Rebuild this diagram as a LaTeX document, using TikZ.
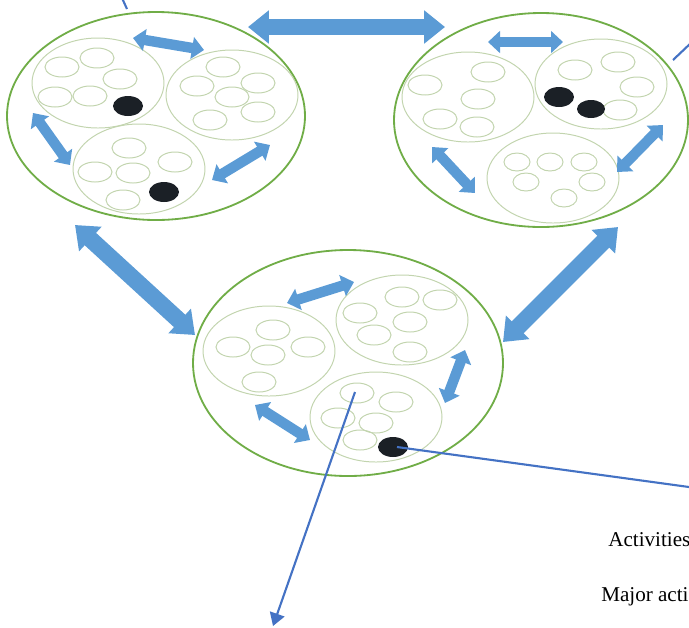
\documentclass[tikz,border=0pt]{standalone}
\usepackage{fontspec}
\setmainfont{Liberation Serif}
\usetikzlibrary{arrows.meta}

\definecolor{flowblue}{HTML}{5B9BD5}
\definecolor{pointblue}{HTML}{4472C4}
\definecolor{clustergreen}{HTML}{70AD47}
\definecolor{teamgreen}{HTML}{C2D4AE}
\definecolor{keyblack}{HTML}{1B2026}

\tikzset{
  cluster/.style={draw=clustergreen, line width=1.3pt},
  team/.style={draw=teamgreen, line width=0.7pt},
  activity/.style={draw=teamgreen, line width=0.7pt},
  keyactivity/.style={fill=keyblack},
  flow/.style={flowblue, line width=0.26cm,
    {Triangle[length=0.3cm,width=0.54cm]}-{Triangle[length=0.3cm,width=0.54cm]}},
  bigflow/.style={flowblue, line width=0.42cm,
    {Triangle[length=0.52cm,width=0.8cm]}-{Triangle[length=0.52cm,width=0.8cm]}},
  pointer/.style={pointblue, line width=1.5pt},
  caption/.style={anchor=west, inner sep=0pt, font=\fontsize{15pt}{18pt}\selectfont},
}

\begin{document}
\begin{tikzpicture}[x=0.025cm, y=-0.025cm]
\useasboundingbox (0,0) rectangle (689,627);

% three clusters
\draw[cluster] (156,116) ellipse [x radius=149, y radius=104];
\draw[cluster] (541,120) ellipse [x radius=147, y radius=107];
\draw[cluster] (348,363) ellipse [x radius=155, y radius=113];

% teams inside each cluster
\foreach \cx/\cy in {98/83, 232/95, 139/169, 468/97, 601/84, 553/178, 269/351, 402/320, 376/417}
  \draw[team] (\cx,\cy) ellipse [x radius=66, y radius=45];

% activities
\foreach \ax/\ay in {62/67, 97/58, 120/79, 55/97, 90/96,
                     223/67, 197/86, 258/83, 232/97, 258/112, 210/120,
                     129/148, 175/162, 95/172, 133/173, 123/200,
                     425/85, 488/72, 478/99, 440/119, 477/127,
                     575/70, 618/62, 637/87, 620/110,
                     273/330, 233/347, 268/355, 308/347, 259/382,
                     402/297, 440/300, 360/313, 410/322, 374/335, 410/352,
                     357/393, 396/402, 338/418, 376/423, 360/440}
  \draw[activity] (\ax,\ay) ellipse [x radius=17, y radius=10];
\foreach \ax/\ay in {517/162, 550/162, 584/162, 526/182, 592/182, 564/198}
  \draw[activity] (\ax,\ay) ellipse [x radius=13, y radius=9];

% major activities
\fill[keyactivity] (128,106) ellipse [x radius=15, y radius=10];
\fill[keyactivity] (164,192) ellipse [x radius=15, y radius=10];
\fill[keyactivity] (559,97) ellipse [x radius=15, y radius=10];
\fill[keyactivity] (591,109) ellipse [x radius=14, y radius=9];
\fill[keyactivity] (393,447) ellipse [x radius=15, y radius=10];

% arrow ends
\coordinate (w1a) at (133,38);  \coordinate (w1b) at (204,50);
\coordinate (w2a) at (33,113);  \coordinate (w2b) at (70,165);
\coordinate (w3a) at (270,145); \coordinate (w3b) at (212,180);
\coordinate (e1a) at (488,42);  \coordinate (e1b) at (563,42);
\coordinate (e2a) at (432,147); \coordinate (e2b) at (475,193);
\coordinate (e3a) at (663,125); \coordinate (e3b) at (617,172);
\coordinate (s1a) at (287,303); \coordinate (s1b) at (354,282);
\coordinate (s2a) at (465,350); \coordinate (s2b) at (445,403);
\coordinate (s3a) at (255,405); \coordinate (s3b) at (310,440);
\coordinate (we-a) at (248,27); \coordinate (we-b) at (445,27);
\coordinate (ws-a) at (75,225); \coordinate (ws-b) at (195,335);
\coordinate (es-a) at (618,227); \coordinate (es-b) at (503,342);

\foreach \p in {w1,w2,w3,e1,e2,e3,s1,s2,s3}
  \draw[flow] (\p a) -- (\p b);
\draw[bigflow] (we-a) -- (we-b);
\draw[bigflow] (ws-a) -- (ws-b);
\draw[bigflow] (es-a) -- (es-b);

% pointers
\coordinate (p1a) at (122,-2);  \coordinate (p1b) at (127,9);
\coordinate (p2a) at (673,60);  \coordinate (p2b) at (692,42);
\coordinate (p3a) at (397,447); \coordinate (p3b) at (689,487);
\coordinate (p4a) at (355,392); \coordinate (p4b) at (273,626);
\draw[pointer] (p1a) -- (p1b);
\draw[pointer] (p2a) -- (p2b);
\draw[pointer] (p3a) -- (p3b);
\draw[pointer, -{Triangle[length=0.32cm,width=0.38cm]}] (p4a) -- (p4b);

\node[caption] (acts) at (608,540) {Activities};
\node[caption] (major) at (601,597) {Major acti};
\end{tikzpicture}
\end{document}
